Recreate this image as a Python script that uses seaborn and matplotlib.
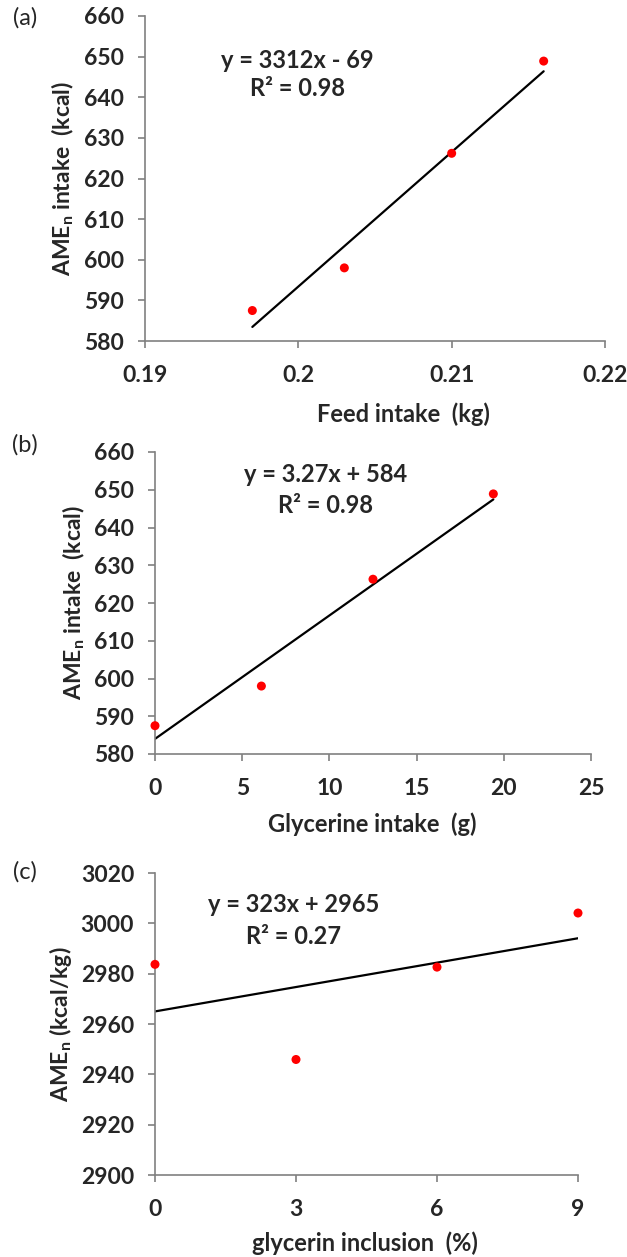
import numpy as np
import pandas as pd
import matplotlib
matplotlib.use("Agg")
import matplotlib.pyplot as plt
import seaborn as sns

# panel (a)
feed_x = [0.197, 0.203, 0.210, 0.216]
feed_y = [587.5, 598.0, 626.2, 648.9]
# panel (b)
glyc_x = [0.0, 6.1, 12.5, 19.4]
glyc_y = [587.5, 598.0, 626.3, 648.9]
# panel (c)
incl_x = [0, 3, 6, 9]
incl_y = [2983.7, 2945.9, 2982.6, 3004.1]

# trendline equations as printed (c uses inclusion as a fraction)
fits = [(3312, -69, 1.0), (3.27, 584, 1.0), (323, 2965, 0.01)]
eq_texts = ["y = 3312x - 69", "y = 3.27x + 584", "y = 323x + 2965"]
r2_texts = ["R² = 0.98", "R² = 0.98", "R² = 0.27"]
panel_tags = ["(a)", "(b)", "(c)"]
x_labels = ["Feed intake  (kg)", "Glycerine intake  (g)", "glycerin inclusion  (%)"]
y_labels = [r"AME$_\mathbf{n}$ intake  (kcal)", r"AME$_\mathbf{n}$ intake  (kcal)",
            r"AME$_\mathbf{n}$ (kcal/kg)"]
x_ticks = [[0.19, 0.2, 0.21, 0.22], [0, 5, 10, 15, 20, 25], [0, 3, 6, 9]]
x_ticklabels = [["0.19", "0.2", "0.21", "0.22"], None, None]
y_ticks = [np.arange(580, 661, 10), np.arange(580, 661, 10), np.arange(2900, 3021, 20)]

sns.set_style("ticks")
plt.rcParams['font.family'] = ['Lato', 'DejaVu Sans']
plt.rcParams['mathtext.fontset'] = 'custom'
plt.rcParams['mathtext.rm'] = 'Lato'
plt.rcParams['mathtext.bf'] = 'Lato:bold'

W, H = 627, 1257
fig = plt.figure(figsize=(W / 100, H / 100), dpi=100)

# axes boxes in pixels: left, right, top, bottom
boxes = [(145, 605, 16, 341), (155, 591, 452, 754), (155, 578, 873, 1175)]
eq_pos = [(297, 61, 89), (326, 474, 506), (294, 904, 936)]
tag_pos = [18, 445, 872]
xlab_pos = [(403, 414), (372, 824), (365, 1243)]
ylab_x = [63, 74, 60]

datasets = [(feed_x, feed_y), (glyc_x, glyc_y), (incl_x, incl_y)]

for i, (xs, ys) in enumerate(datasets):
    l, r, t, b = boxes[i]
    ax = fig.add_axes([l / W, 1 - b / H, (r - l) / W, (b - t) / H])
    df = pd.DataFrame({"x": xs, "y": ys})
    slope, icpt, scale = fits[i]
    line_x = np.array([min(xs), max(xs)])
    line_df = pd.DataFrame({"x": line_x, "y": icpt + slope * line_x * scale})
    sns.lineplot(data=line_df, x="x", y="y", color="black", linewidth=1.6, ax=ax)
    sns.scatterplot(data=df, x="x", y="y", color="#ff0000", s=42, edgecolor="none",
                    ax=ax, zorder=3, clip_on=False)

    ax.set_xlim(x_ticks[i][0], x_ticks[i][-1])
    ax.set_ylim(y_ticks[i][0], y_ticks[i][-1])
    ax.set_xticks(x_ticks[i])
    if x_ticklabels[i] is not None:
        ax.set_xticklabels(x_ticklabels[i])
    ax.set_yticks(y_ticks[i])
    sns.despine(ax=ax)
    for sp in ["left", "bottom"]:
        ax.spines[sp].set_color("#808080")
        ax.spines[sp].set_linewidth(1.2)
    ax.tick_params(axis="both", direction="out", length=5, width=1.2, color="#808080",
                   labelsize=16.5)
    ax.tick_params(axis="x", pad=12)
    ax.tick_params(axis="y", pad=10)
    for lab in ax.get_xticklabels() + ax.get_yticklabels():
        lab.set_fontweight("bold")
    ax.set_xlabel("")
    ax.set_ylabel(y_labels[i], fontsize=16.5, fontweight="bold")
    ax.yaxis.label.set_va("center")
    ax.yaxis.set_label_coords((ylab_x[i] - l) / (r - l), 0.5)

    xl, yl = xlab_pos[i]
    fig.text(xl / W, 1 - yl / H, x_labels[i],
             ha="center", va="center", fontsize=17, fontweight="bold")
    ex, ey, ry = eq_pos[i]
    fig.text(ex / W, 1 - ey / H, eq_texts[i], ha="center", va="center",
             fontsize=17, fontweight="bold")
    fig.text(ex / W, 1 - ry / H, r2_texts[i], ha="center", va="center",
             fontsize=17, fontweight="bold")
    fig.text(25 / W, 1 - tag_pos[i] / H, panel_tags[i], ha="center", va="center",
             fontsize=17)

fig.savefig("out.png", dpi=100)
